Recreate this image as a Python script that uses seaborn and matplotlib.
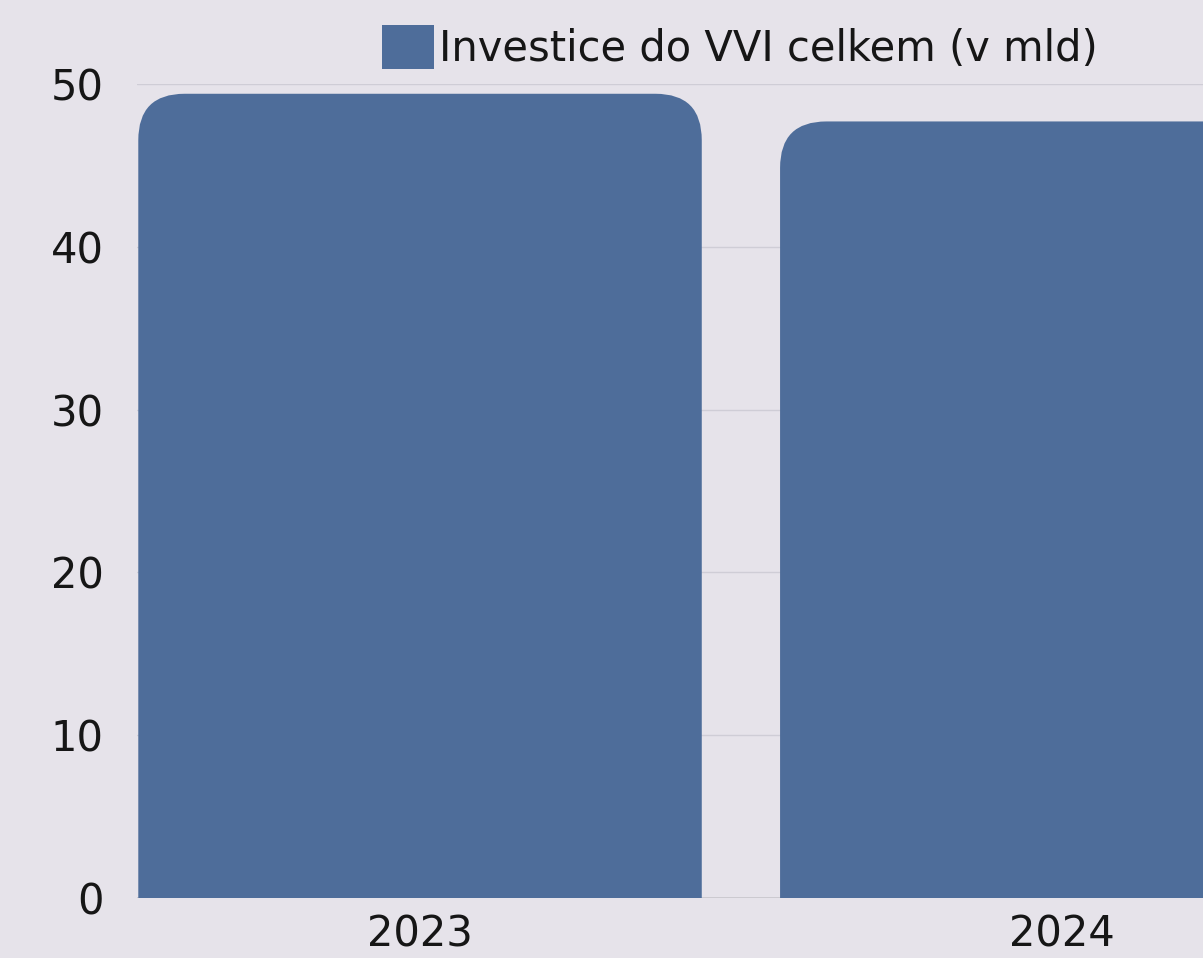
import matplotlib
matplotlib.use("Agg")
import matplotlib.pyplot as plt
import seaborn as sns
import pandas as pd
from matplotlib.patches import FancyBboxPatch, Patch

years = ["2023", "2024"]
values = [49.4, 47.7]
series_name = "Investice do VVI celkem (v mld)"
yticks = [0, 10, 20, 30, 40, 50]

sns.set_theme(style="white")
plt.rcParams["font.family"] = ["DejaVu Sans"]

BG = "#e6e3ea"
BAR = "#4e6d9a"
TXT = "#161616"

fig = plt.figure(figsize=(12.03, 9.58), dpi=100, facecolor=BG)
ax = fig.add_axes([137 / 1203, 60 / 958, 1 - 137 / 1203, 814 / 958])
ax.set_facecolor("none")

df = pd.DataFrame({"year": years, "value": values, "series": series_name})
sns.barplot(data=df, x="year", y="value", hue="series", palette=[BAR],
            width=0.878, ax=ax, legend=False, saturation=1)

ax.set_ylim(0, 50)
ax.set_xlim(-0.441, 1.22)
ax.set_yticks(yticks)
ax.yaxis.grid(True, color="#cfcdd6", linewidth=1)
ax.set_axisbelow(True)
for s in ax.spines.values():
    s.set_visible(False)
ax.axhline(0, color="#c8c6cc", linewidth=1.2, zorder=1)

# replace bars with rounded-top versions
rx = 0.072
ry = 2.85
for p in list(ax.patches):
    x0, w, h = p.get_x(), p.get_width(), p.get_height()
    p.set_visible(False)
    fb = FancyBboxPatch((x0 + rx, -10 + ry), w - 2 * rx, h + 10 - 2 * ry,
                        boxstyle=f"round,pad={rx},rounding_size={rx}",
                        mutation_aspect=ry / rx,
                        facecolor=BAR, edgecolor="none", zorder=2)
    ax.add_patch(fb)

ax.set_xlabel("")
ax.set_ylabel("")
ax.tick_params(axis="y", labelsize=30, pad=24, length=0, labelcolor=TXT)
ax.tick_params(axis="x", labelsize=30, pad=11, length=0, labelcolor=TXT)

leg = fig.legend(handles=[Patch(facecolor=BAR, edgecolor="none", label=series_name)],
                 loc="upper center", bbox_to_anchor=(740 / 1203, 1.0),
                 frameon=False, fontsize=30, handlelength=1.25, handleheight=1.25,
                 handletextpad=0.12, borderaxespad=0.2, labelcolor=TXT)

fig.savefig("out.png", dpi=100, facecolor=BG)
